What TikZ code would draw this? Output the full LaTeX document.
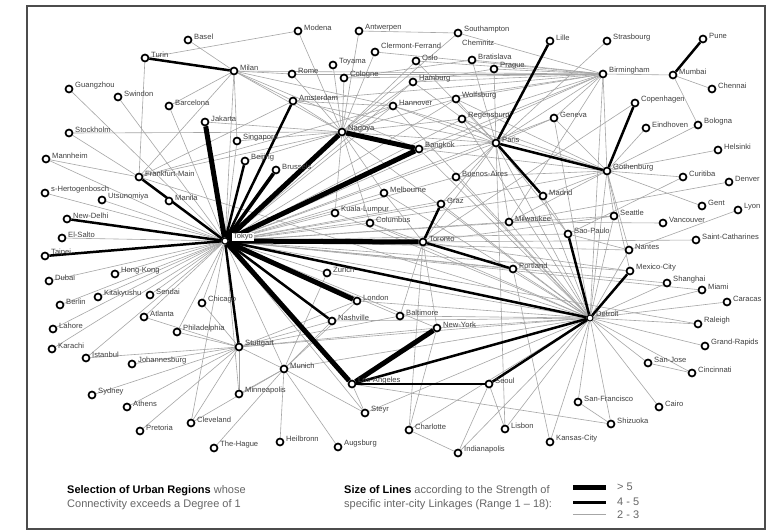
\documentclass[tikz,border=0pt]{standalone}
\usepackage{fontspec}
\setmainfont{Liberation Sans}
\pgfdeclarelayer{paperlayer}
\pgfdeclarelayer{graylayer}
\pgfdeclarelayer{blacklayer}
\pgfsetlayers{paperlayer,graylayer,blacklayer,main}
\tikzset{
  city/.style={circle, draw=black, line width=1.7pt, fill=white, minimum size=7pt, inner sep=0pt},
  hubcity/.style={circle, draw=black, line width=1pt, fill=white, minimum size=6pt, inner sep=0pt},
  lbl/.style={anchor=west, inner sep=0pt, text=black!75, font=\fontsize{7.6}{8}\selectfont},
  gedge/.style={draw=black!35, line width=0.6pt},
  xthick/.style={draw=black, line width=5pt},
  tthick/.style={draw=black, line width=3.6pt},
  mthick/.style={draw=black, line width=2.5pt},
  captext/.style={anchor=base west, inner sep=0pt, font=\fontsize{11}{13}\selectfont},
  legtext/.style={anchor=west, inner sep=0pt, text=black!60, font=\fontsize{11}{13}\selectfont}
}
\begin{document}
\begin{tikzpicture}[x=1pt,y=-1pt]
\useasboundingbox (0,0) rectangle (769,531);
\begin{pgfonlayer}{paperlayer}
\fill[white] (0,0) rectangle (769,531);
\end{pgfonlayer}
\draw[line width=1.8pt, black!70] (27,6) rectangle (765,529);

% cities
\foreach \n/\x/\y/\t in {
basel/188/40/Basel, turin/145/58/Turin, milan/234/71/Milan, modena/298/31/Modena,
antwerpen/359/31/Antwerpen, rome/292/74/Rome, toyama/333/65/Toyama, cologne/344/78/Cologne,
oslo/416/61/Oslo, southampton/458/33/Southampton,
bratislava/472/60/Bratislava, prague/494/69/Prague, hamburg/413/82/Hamburg,
wolfsburg/456/99/Wolfsburg, hannover/393/106/Hannover, regensburg/462/119/Regensburg,
lille/550/41/Lille, geneva/554/118/Geneva, paris/496/143/Paris, bangkok/419/149/Bangkok,
buenos/456/177/Buenos-Aires, strasbourg/607/41/Strasbourg, pune/703/39/Pune,
birmingham/603/74/Birmingham, mumbai/673/75/Mumbai, chennai/712/89/Chennai,
copenhagen/635/103/Copenhagen, eindhoven/646/128/Eindhoven, bologna/698/125/Bologna,
helsinki/718/150/Helsinki, gothenburg/607/171/Gothenburg, curitiba/683/177/Curitiba,
denver/729/182/Denver, guangzhou/69/89/Guangzhou, swindon/118/97/Swindon,
barcelona/169/106/Barcelona, stockholm/69/133/Stockholm, mannheim/46/159/Mannheim,
frankfurt/139/177/Frankfurt-Main, amsterdam/293/101/Amsterdam, jakarta/205/122/Jakarta,
singapore/237/141/Singapore, nagoya/342/132/Nagoya, beijing/245/161/Beijing,
brussels/276/170/Brussels, sherto/45/193/s-Hertogenbosch, utsu/102/200/Utsunomiya,
manila/169/201/Manila, newdelhi/67/219/New-Delhi, elsalto/62/238/El-Salto,
taipei/45/256/Taipei, dubai/49/281/Dubai, hongkong/115/274/Hong-Kong, berlin/60/305/Berlin,
kitakyushu/98/297/Kitakyushu, sendai/150/295/Sendai, atlanta/144/317/Atlanta,
lahore/53/329/Lahore, philadelphia/177/332/Philadelphia, karachi/52/349/Karachi,
kuala/335/213/Kuala-Lumpur, columbus/370/223/Columbus, melbourne/384/193/Melbourne,
zurich/327/273/Zurich, london/357/301/London, nashville/332/321/Nashville,
chicago/202/303/Chicago, stuttgart/239/347/Stuttgart, graz/441/204/Graz,
toronto/423/242/Toronto, milwaukee/509/222/Milwaukee, madrid/543/196/Madrid,
saopaulo/568/234/Sao-Paulo, portland/513/269/Portland, baltimore/400/316/Baltimore,
newyork/437/328/New-York, seattle/614/216/Seattle, gent/702/206/Gent,
lyon/738/210/Lyon, vancouver/663/223/Vancouver, saintcath/696/240/Saint-Catharines,
nantes/629/250/Nantes, mexico/630/271/Mexico-City, shanghai/667/283/Shanghai,
miami/702/290/Miami, caracas/727/302/Caracas, raleigh/698/324/Raleigh,
grandrapids/705/346/Grand-Rapids, istanbul/86/358/Istanbul, johannesburg/132/364/Johannesburg,
sydney/92/395/Sydney, athens/127/407/Athens, pretoria/140/431/Pretoria,
cleveland/191/423/Cleveland, munich/284/369/Munich, minneapolis/239/394/Minneapolis,
thehague/214/448/The-Hague, heilbronn/280/442/Heilbronn, augsburg/338/447/Augsburg,
losangeles/352/384/Los-Angeles, steyr/365/413/Steyr, seoul/489/384/Seoul,
charlotte/409/430/Charlotte, lisbon/505/429/Lisbon, indianapolis/458/453/Indianapolis,
kansascity/550/442/Kansas-City, sanjose/648/363/San-Jose, cincinnati/692/373/Cincinnati,
sanfrancisco/578/402/San-Francisco, cairo/659/407/Cairo, shizuoka/611/424/Shizuoka}
{
  \node[city] (\n) at (\x,\y) {};
  \node[lbl] (\n-l) at ([shift={(6,-3)}]\n.center) {\t};
}
\node[city] (clermont) at (375,52) {};
\node[lbl] (clermont-l) at (381,46) {Clermont-Ferrand};
\node[lbl] (chemnitz-l) at (462,43) {Chemnitz};
\node[hubcity] (tokyo) at (225,241) {};
\node[lbl, fill=white, inner sep=0.8pt] (tokyo-l) at (232,237) {Tokyo};
\node[hubcity] (detroit) at (590,318) {};
\node[lbl] (detroit-l) at (596,314) {Detroit};

% thin linkages
\begin{pgfonlayer}{graylayer}
\foreach \a/\b in {
tokyo/guangzhou, tokyo/swindon, tokyo/barcelona, tokyo/milan, tokyo/singapore, tokyo/sherto,
tokyo/utsu, tokyo/elsalto, tokyo/dubai, tokyo/hongkong, tokyo/berlin, tokyo/kitakyushu,
tokyo/sendai, tokyo/lahore, tokyo/atlanta, tokyo/karachi, tokyo/philadelphia, tokyo/chicago,
tokyo/minneapolis, tokyo/munich, tokyo/kuala, tokyo/columbus, tokyo/melbourne, tokyo/baltimore,
tokyo/newyork, tokyo/paris, tokyo/hannover, tokyo/regensburg, tokyo/milwaukee, tokyo/saopaulo,
tokyo/portland, tokyo/seattle, tokyo/nantes, tokyo/mexico, tokyo/madrid, tokyo/geneva,
tokyo/buenos, tokyo/graz, tokyo/wolfsburg, tokyo/hamburg, tokyo/zurich, tokyo/steyr,
tokyo/gothenburg, tokyo/mannheim, tokyo/istanbul, tokyo/cleveland, tokyo/birmingham,
tokyo/shanghai, tokyo/miami, tokyo/raleigh,
detroit/shanghai, detroit/miami, detroit/caracas, detroit/raleigh, detroit/grandrapids,
detroit/sanjose, detroit/cincinnati, detroit/cairo, detroit/shizuoka, detroit/sanfrancisco,
detroit/kansascity, detroit/lisbon, detroit/indianapolis, detroit/nantes, detroit/seattle,
detroit/birmingham, detroit/geneva, detroit/paris, detroit/milwaukee, detroit/baltimore,
detroit/newyork, detroit/buenos, detroit/nagoya, detroit/frankfurt, detroit/stuttgart,
detroit/munich, detroit/portland, detroit/zurich, detroit/london, detroit/nashville,
detroit/melbourne, detroit/kuala, detroit/columbus, detroit/graz, detroit/steyr,
detroit/charlotte, detroit/gothenburg, detroit/bangkok, detroit/hannover, detroit/regensburg,
detroit/madrid,
gothenburg/birmingham, gothenburg/eindhoven, gothenburg/bologna, gothenburg/helsinki,
gothenburg/curitiba, gothenburg/gent, gothenburg/seattle, gothenburg/nantes, gothenburg/mexico,
gothenburg/milwaukee, gothenburg/madrid, gothenburg/geneva, gothenburg/wolfsburg,
gothenburg/hannover, gothenburg/bangkok, gothenburg/regensburg, gothenburg/buenos,
birmingham/mumbai, birmingham/southampton, birmingham/hannover, birmingham/wolfsburg,
birmingham/prague, birmingham/bratislava, birmingham/regensburg, birmingham/milan,
birmingham/rome, birmingham/clermont, birmingham/oslo, birmingham/geneva, birmingham/milwaukee,
birmingham/bangkok, birmingham/amsterdam, birmingham/hamburg, birmingham/cologne,
mumbai/chennai, mumbai/bologna,
paris/regensburg, paris/wolfsburg, paris/bratislava, paris/prague, paris/geneva,
paris/birmingham, paris/strasbourg, paris/buenos, paris/milwaukee, paris/toronto,
paris/nagoya, paris/hannover, paris/saopaulo, paris/graz, paris/lisbon, paris/hamburg,
paris/oslo, paris/amsterdam, paris/bangkok,
nagoya/milan, nagoya/rome, nagoya/toyama, nagoya/cologne, nagoya/modena, nagoya/antwerpen,
nagoya/amsterdam, nagoya/hannover, nagoya/hamburg, nagoya/oslo, nagoya/stockholm,
nagoya/singapore, nagoya/kuala, nagoya/melbourne, nagoya/columbus, nagoya/regensburg,
nagoya/wolfsburg, nagoya/jakarta, nagoya/beijing, nagoya/frankfurt, nagoya/clermont,
nagoya/southampton,
milan/rome, milan/basel, milan/barcelona, milan/frankfurt, milan/singapore, milan/amsterdam,
milan/hannover, milan/bangkok, turin/modena, turin/frankfurt,
frankfurt/mannheim, frankfurt/stockholm, frankfurt/amsterdam, frankfurt/hannover,
amsterdam/hannover, antwerpen/southampton, bratislava/cologne, prague/hamburg,
stuttgart/istanbul, stuttgart/johannesburg, stuttgart/sydney, stuttgart/athens,
stuttgart/pretoria, stuttgart/minneapolis, stuttgart/munich, stuttgart/cleveland,
stuttgart/philadelphia, stuttgart/chicago, stuttgart/london, stuttgart/nashville,
stuttgart/newyork, stuttgart/baltimore, stuttgart/atlanta,
munich/heilbronn, munich/augsburg, munich/steyr, munich/thehague, munich/cleveland,
munich/minneapolis, munich/nashville, munich/london, munich/zurich,
losangeles/shizuoka, losangeles/steyr, charlotte/newyork, charlotte/indianapolis,
toronto/saintcath, toronto/mexico, toronto/copenhagen, toronto/charlotte, toronto/newyork,
toronto/baltimore, toronto/columbus, toronto/melbourne, toronto/seattle,
milwaukee/denver, milwaukee/vancouver, lyon/nantes, saopaulo/nantes, saopaulo/curitiba,
saopaulo/madrid, kansascity/portland, sanfrancisco/shizuoka, sanjose/cincinnati,
seoul/indianapolis, seoul/lisbon}
{ \draw[gedge] (\a) -- (\b); }
\end{pgfonlayer}

% strong linkages
\begin{pgfonlayer}{blacklayer}
\foreach \a/\b in {tokyo/jakarta, tokyo/nagoya, tokyo/bangkok, nagoya/bangkok,
  tokyo/toronto, tokyo/london, tokyo/losangeles, losangeles/newyork}
{ \draw[xthick] (\a) -- (\b); }
\foreach \a/\b in {tokyo/brussels}
{ \draw[tthick] (\a) -- (\b); }
\foreach \a/\b in {tokyo/beijing, tokyo/amsterdam, tokyo/newdelhi, tokyo/taipei,
  tokyo/frankfurt, tokyo/detroit, tokyo/nashville, tokyo/stuttgart, turin/milan,
  paris/lille, paris/madrid, paris/gothenburg, gothenburg/copenhagen, mumbai/pune,
  toronto/graz, toronto/portland, detroit/saopaulo, detroit/mexico, detroit/seoul,
  detroit/losangeles, losangeles/seoul}
{ \draw[mthick] (\a) -- (\b); }
\end{pgfonlayer}

% captions
\node[captext] (cap1) at (67,493) {\textbf{Selection of Urban Regions} \textcolor{black!60}{whose}};
\node[captext, text=black!60] (cap2) at (67,507) {Connectivity exceeds a Degree of 1};
\node[captext] (leg1) at (344,493) {\textbf{Size of Lines} \textcolor{black!60}{according to the Strength of}};
\node[captext, text=black!60] (leg2) at (344,507) {specific inter-city Linkages (Range 1 – 18):};

% legend
\coordinate (l1a) at (573,487); \coordinate (l1b) at (606,487);
\coordinate (l2a) at (573,502); \coordinate (l2b) at (606,502);
\coordinate (l3a) at (573,514); \coordinate (l3b) at (606,514);
\draw[xthick] (l1a) -- (l1b);
\draw[draw=black, line width=3pt] (l2a) -- (l2b);
\draw[gedge] (l3a) -- (l3b);
\node[legtext] (lt1) at (617,487) {> 5};
\node[legtext] (lt2) at (617,502) {4 - 5};
\node[legtext] (lt3) at (617,515) {2 - 3};
\end{tikzpicture}
\end{document}
